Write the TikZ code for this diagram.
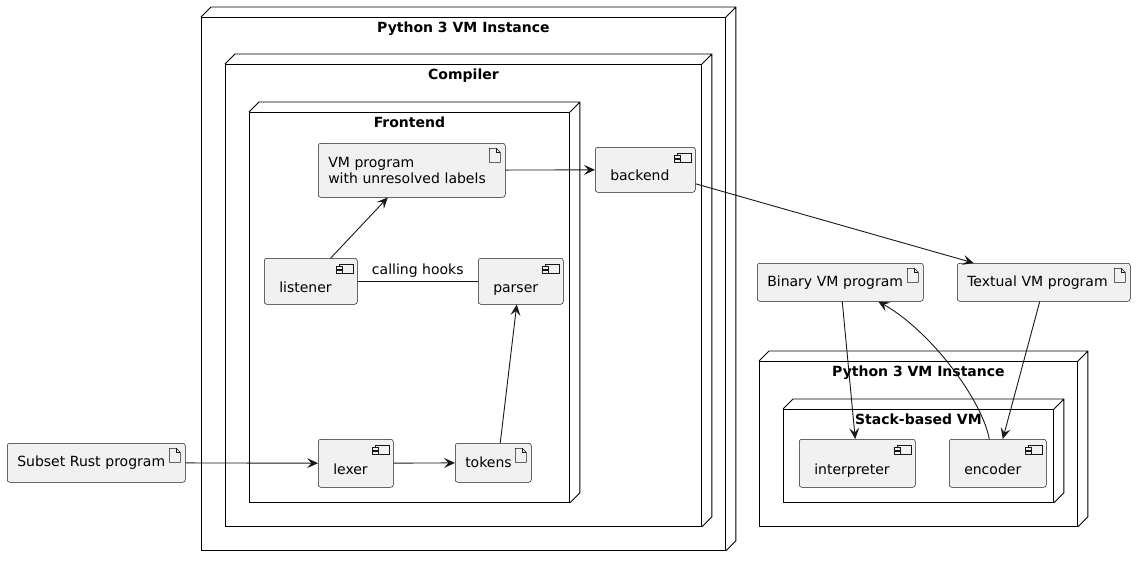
\documentclass[tikz,border=0pt]{standalone}
\usepackage{fontspec}
\setmainfont{DejaVu Sans}
\usepackage{tikz}
\usetikzlibrary{arrows.meta,calc}

\definecolor{boxfill}{HTML}{F1F1F1}
\definecolor{boxline}{HTML}{181818}

\tikzset{
  devbox/.style={draw, line width=0.9pt, anchor=north west, inner sep=0pt},
  title/.style={anchor=north, inner sep=5pt, font=\fontsize{14}{16}\selectfont\bfseries},
  comp/.style={draw=boxline, fill=boxfill, line width=0.5pt, rounded corners=2.5pt,
    anchor=north west, align=left, inner xsep=15pt, inner ysep=2pt,
    text height=26pt, text depth=4pt,
    path picture={
      \begin{scope}[sharp corners, draw=boxline, line width=0.5pt]
        \draw ([shift={(-18pt,-6pt)}]path picture bounding box.north east) rectangle ++(14pt,-9pt);
        \draw[fill=boxfill] ([shift={(-21pt,-8pt)}]path picture bounding box.north east) rectangle ++(6pt,-2.5pt);
        \draw[fill=boxfill] ([shift={(-21pt,-12pt)}]path picture bounding box.north east) rectangle ++(6pt,-2.5pt);
      \end{scope}}},
  artf/.style={draw=boxline, fill=boxfill, line width=0.5pt, rounded corners=2.5pt,
    anchor=north west, align=left, inner xsep=10pt,
    path picture={
      \begin{scope}[sharp corners, draw=boxline, line width=0.5pt]
        \coordinate (ne) at (path picture bounding box.north east);
        \draw ([shift={(-16pt,-5pt)}]ne) -- ([shift={(-9pt,-5pt)}]ne) -- ([shift={(-5pt,-9pt)}]ne)
          -- ([shift={(-5pt,-19pt)}]ne) -- ([shift={(-16pt,-19pt)}]ne) -- cycle;
        \draw ([shift={(-9pt,-5pt)}]ne) -- ([shift={(-9pt,-9pt)}]ne) -- ([shift={(-5pt,-9pt)}]ne);
      \end{scope}}},
  conn/.style={draw=boxline, line width=0.9pt, -{Stealth[length=11pt,width=10pt,inset=4.5pt]}},
  link/.style={draw=boxline, line width=0.9pt}
}

\newcommand{\nodedepth}[1]{
  \draw[line width=0.9pt] (#1.north west) -- ++(10pt,10pt) -- ([shift={(10pt,10pt)}]#1.north east)
    -- ([shift={(10pt,10pt)}]#1.south east) -- (#1.south east)
    (#1.north east) -- ++(10pt,10pt);
}

\begin{document}
\begin{tikzpicture}[x=1pt,y=-1pt,font=\fontsize{14}{16}\selectfont]
  \useasboundingbox (0,0) rectangle (1141,566);

  % deployment nodes
  \node[devbox, minimum width=524pt, minimum height=533pt, label={[title]north:Python 3 VM Instance}] (vmleft) at (201,17) {};
  \nodedepth{vmleft}
  \node[devbox, minimum width=476pt, minimum height=462pt, label={[title]north:Compiler}] (compiler) at (225,64) {};
  \nodedepth{compiler}
  \node[devbox, minimum width=320pt, minimum height=390pt, label={[title]north:Frontend}] (frontend) at (249,112) {};
  \nodedepth{frontend}
  \node[devbox, minimum width=318pt, minimum height=165pt, label={[title]north:Python 3 VM Instance}] (vmright) at (759,361) {};
  \nodedepth{vmright}
  \node[devbox, minimum width=270pt, minimum height=93pt, label={[title]north:Stack-based VM}] (stackvm) at (783,409) {};
  \nodedepth{stackvm}

  % artifacts
  \node[artf, text width=158pt, minimum height=39pt] (rustsrc) at (7,443) {Subset Rust program};
  \node[artf, text width=56pt, minimum height=39pt] (tokens) at (455,443) {tokens};
  \node[artf, text width=167pt, minimum height=54pt] (vmprog) at (318,143) {VM program\\with unresolved labels};
  \node[artf, text width=146pt, minimum height=38pt] (binprog) at (757,263) {Binary VM program};
  \node[artf, text width=153pt, minimum height=38pt] (txtprog) at (957,263) {Textual VM program};

  % components
  \node[comp, text width=45pt, minimum height=48pt] (lexer) at (318,439) {lexer};
  \node[comp, text width=55pt, minimum height=46pt] (parser) at (478,258) {parser};
  \node[comp, text width=63pt, minimum height=46pt] (listener) at (264,258) {listener};
  \node[comp, text width=70pt, minimum height=45pt] (backend) at (595,147) {backend};
  \node[comp, text width=86pt, minimum height=48pt] (interp) at (799,439) {interpreter};
  \node[comp, text width=67pt, minimum height=48pt] (encoder) at (949,439) {encoder};

  % connectors
  \draw[conn] (rustsrc) -- (lexer);
  \draw[conn] (lexer) -- (tokens);
  \draw[conn] ([xshift=7pt]tokens.north) -- ([xshift=-4pt]parser.south);
  \draw[link] (listener) -- node[above, inner sep=3pt] {calling hooks} (parser);
  \draw[conn] ([xshift=20pt]listener.north) -- ([xshift=-24pt]vmprog.south);
  \draw[conn] (vmprog) -- (backend);
  \draw[conn] ([yshift=-14pt]backend.east) -- ([xshift=-70pt]txtprog.north);
  \draw[conn] ([xshift=2pt]binprog.south) -- ([xshift=-2pt]interp.north);
  \draw[conn] ([xshift=-4pt]txtprog.south) -- ([xshift=5pt]encoder.north);
  \draw[conn] ([xshift=-8.5pt]encoder.north) .. controls +(-7,-39) and +(52,29) .. ([xshift=38pt]binprog.south);
\end{tikzpicture}
\end{document}
